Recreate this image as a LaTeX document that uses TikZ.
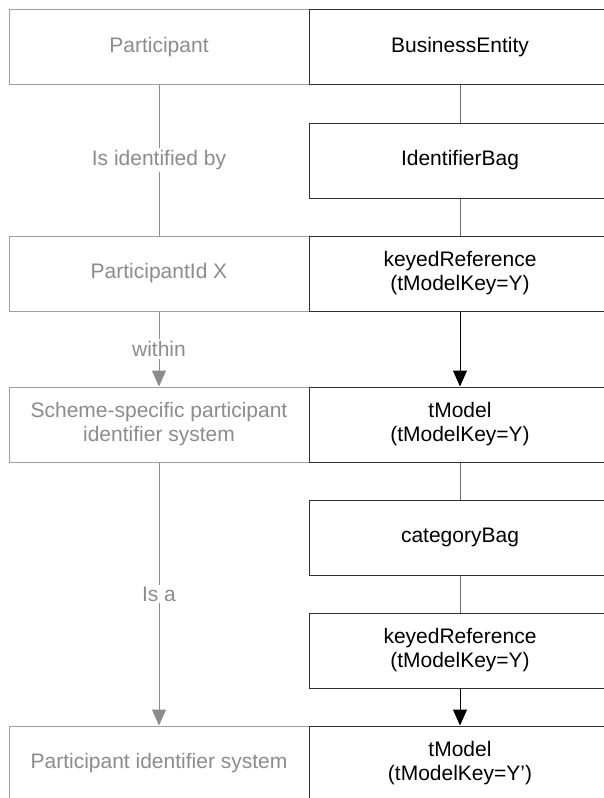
\documentclass[tikz,border=0pt]{standalone}
\usepackage{fontspec}
\setmainfont{Liberation Sans}
\usetikzlibrary{arrows.meta}
\definecolor{softgray}{HTML}{8C8C8C}
\definecolor{boxgray}{HTML}{A0A0A0}
\definecolor{linkgray}{HTML}{707070}
\definecolor{darkedge}{HTML}{303030}
\tikzset{
  concept/.style={draw=boxgray, line width=1pt, fill=white, text=softgray,
    minimum width=300pt, minimum height=75pt, inner sep=0pt, align=center,
    font=\fontsize{21}{24}\selectfont},
  uddi/.style={draw=darkedge, line width=1pt, fill=white, text=black,
    minimum width=302pt, minimum height=75pt, inner sep=0pt, align=center,
    font=\fontsize{21}{24}\selectfont},
  grayline/.style={draw=softgray, line width=1pt},
  darkline/.style={draw=linkgray, line width=1pt},
  grayarrow/.style={grayline, -{Triangle[length=16pt,width=14pt,fill=softgray]}},
  darkarrow/.style={draw=black, line width=1pt, -{Triangle[length=16pt,width=14pt,fill=black]}},
  rel/.style={fill=white, text=softgray, inner sep=2pt,
    font=\fontsize{21}{24}\selectfont}
}
\begin{document}
\begin{tikzpicture}[x=1pt, y=-1pt]
  \useasboundingbox (0,0) rectangle (604,798);
  \clip (0,0) rectangle (604,798);

  % concept column
  \node[concept] (part)   at (159,47)    {Participant};
  \node[concept] (pid)    at (159,273.5) {ParticipantId X};
  \node[concept] (scheme) at (159,424.5) {Scheme-specific participant\\identifier system};
  \node[concept] (pisys)  at (159,763.5) {Participant identifier system};

  % UDDI column
  \node[uddi] (be)    at (460,47)    {BusinessEntity};
  \node[uddi] (ibag)  at (460,160.5) {IdentifierBag};
  \node[uddi] (kref1) at (460,273.5) {keyedReference\\(tModelKey=Y)};
  \node[uddi] (tm1)   at (460,424.5) {tModel\\(tModelKey=Y)};
  \node[uddi] (cbag)  at (460,537.5) {categoryBag};
  \node[uddi] (kref2) at (460,650.5) {keyedReference\\(tModelKey=Y)};
  \node[uddi] (tm2)   at (460,763.5) {tModel\\(tModelKey=Y’)};

  % concept relations
  \draw[grayline] (part.south) -- node[rel] {Is identified by} (pid.north);
  \draw[grayarrow] (pid.south) -- node[rel] {within} (scheme.north);
  \draw[grayarrow] (scheme.south) -- node[rel] {Is a} (pisys.north);

  % UDDI structure
  \draw[darkline] (be.south) -- (ibag.north);
  \draw[darkline] (ibag.south) -- (kref1.north);
  \draw[darkarrow] (kref1.south) -- (tm1.north);
  \draw[darkline] (tm1.south) -- (cbag.north);
  \draw[darkline] (cbag.south) -- (kref2.north);
  \draw[darkarrow] (kref2.south) -- (tm2.north);
\end{tikzpicture}
\end{document}
